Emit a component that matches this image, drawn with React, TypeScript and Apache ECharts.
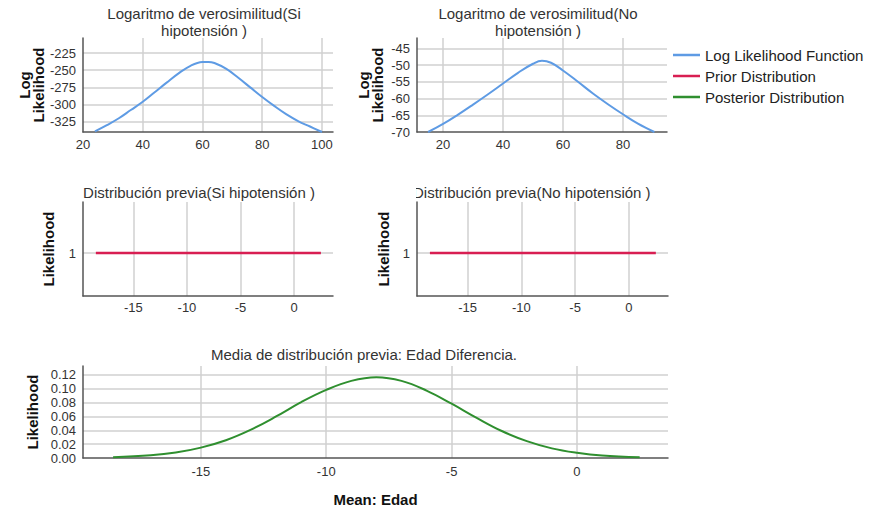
import React, { useEffect, useRef } from "react";
import * as echarts from "echarts";

// Log likelihood (Si hipotensión): [mean, log likelihood]
const llSiX = [24, 28, 32, 36, 40, 44, 48, 52, 56, 60, 62, 64, 68, 72, 76, 80, 84, 88, 92, 96, 100];
const llSiY = [-339, -330, -320, -308, -296, -282, -268, -254.5, -243.5, -238, -237.8, -239.5, -248, -261, -275, -289, -302, -314, -324, -332, -340];

// Log likelihood (No hipotensión)
const llNoX = [15, 20, 25, 30, 35, 40, 45, 50, 53, 56, 60, 65, 70, 75, 80, 85, 90.5];
const llNoY = [-70, -67.6, -64.8, -61.8, -58.7, -55.5, -52.3, -49.6, -48.7, -49.3, -51.6, -55, -58.5, -61.7, -64.7, -67.5, -70];

// Prior distribution (flat)
const priorX = [-18.5, 2.5];
const priorY = [1, 1];

// Posterior distribution of the mean difference
const postX = [-18.5, -17, -16, -15, -14, -13, -12, -11, -10, -9, -8, -7, -6, -5, -4, -3, -2, -1, 0, 1, 2.5];
const postY = [0.0011, 0.0038, 0.0078, 0.015, 0.0257, 0.041, 0.06, 0.0808, 0.0985, 0.1115, 0.1167, 0.1115, 0.0975, 0.0785, 0.058, 0.039, 0.0244, 0.0139, 0.0075, 0.0035, 0.001];

const titles = [
  "Logaritmo de verosimilitud(Si\nhipotensión )",
  "Logaritmo de verosimilitud(No\nhipotensión )",
  "Distribución previa(Si hipotensión )",
  "Distribución previa(No hipotensión )",
  "Media de distribución previa: Edad Diferencia.",
];
const seriesNames = ["Log Likelihood Function", "Prior Distribution", "Posterior Distribution"];
const colors = ["#5e9be4", "#d81e52", "#2f8f2f"];

const FONT = "Liberation Sans, Arial, sans-serif";
const zip = (xs: number[], ys: number[]) => xs.map((x, i) => [x, ys[i]]);

function isMult(v: number, step: number) {
  const r = v / step;
  return Math.abs(r - Math.round(r)) < 1e-6;
}

function xAxisCfg(grid: number, min: number, max: number, step: number, margin: number, name?: string) {
  return {
    type: "value",
    gridIndex: grid,
    min,
    max,
    minInterval: step,
    maxInterval: step,
    axisLine: { show: true, onZero: false, lineStyle: { color: "#555", width: 1.5 } },
    axisTick: { show: false },
    axisLabel: {
      margin,
      color: "#333",
      fontSize: 13,
      fontFamily: FONT,
      formatter: (v: number) => (isMult(v, step) ? String(Math.round(v)) : ""),
    },
    splitLine: { show: true, showMinLine: false, showMaxLine: false, lineStyle: { color: "#d0d0d0", width: 1.5 } },
    name: name || "",
    nameLocation: "middle",
    nameGap: 33.5,
    nameTextStyle: { fontWeight: "bold", fontSize: 15, color: "#111", fontFamily: FONT },
  };
}

function yAxisCfg(grid: number, min: number, max: number, step: number, name: string, nameGap: number, digits: number, onlyVal?: number) {
  return {
    type: "value",
    gridIndex: grid,
    min,
    max,
    minInterval: step,
    maxInterval: step,
    axisLine: { show: true, onZero: false, lineStyle: { color: "#555", width: 1.5 } },
    axisTick: { show: false },
    axisLabel: {
      margin: 7,
      color: "#333",
      fontSize: 13,
      fontFamily: FONT,
      formatter: (v: number) => {
        if (onlyVal !== undefined) return Math.abs(v - onlyVal) < 1e-6 ? String(onlyVal) : "";
        return isMult(v, step) ? v.toFixed(digits) : "";
      },
    },
    splitLine: { show: true, showMinLine: false, showMaxLine: false, lineStyle: { color: "#d0d0d0", width: 1.5 } },
    name,
    nameLocation: "middle",
    nameRotate: 90,
    nameGap,
    nameTextStyle: { fontWeight: "bold", fontSize: 15, color: "#111", fontFamily: FONT, lineHeight: 14 },
  };
}

export default function App() {
  const ref = useRef<HTMLDivElement>(null);
  useEffect(() => {
    if (!ref.current) return;
    const chart = echarts.init(ref.current, undefined, { renderer: "svg" });
    const titleStyle = { fontSize: 15, fontWeight: "normal", color: "#333", fontFamily: FONT, lineHeight: 15 };
    const titleStyle2 = { ...titleStyle, lineHeight: 17 };
    chart.setOption({
      animation: false,
      backgroundColor: "#fff",
      title: [
        { text: titles[0], left: 204, top: 5, padding: 0, textAlign: "center", textStyle: titleStyle2 },
        { text: titles[1], left: 538, top: 5, padding: 0, textAlign: "center", textStyle: titleStyle2 },
        { text: titles[2], left: 199, top: 185, padding: 0, textAlign: "center", textStyle: titleStyle },
        { text: titles[3], left: 413, top: 185, padding: 0, textAlign: "left", textStyle: titleStyle },
        { text: titles[4], left: 364, top: 347, padding: 0, textAlign: "center", textStyle: titleStyle },
      ],
      graphic: [
        { type: "rect", z: 100, shape: { x: 395, y: 180, width: 21, height: 22 }, style: { fill: "#fff" } },
      ],
      legend: {
        orient: "vertical",
        left: 673,
        top: 47.5,
        padding: 0,
        icon: "rect",
        itemWidth: 27,
        itemHeight: 2.5,
        itemGap: 6,
        data: seriesNames,
        textStyle: { fontSize: 15, color: "#222", fontFamily: FONT, lineHeight: 15 },
      },
      grid: [
        { left: 83, top: 38, width: 250, height: 94 },
        { left: 417, top: 38, width: 250, height: 94 },
        { left: 83, top: 202, width: 250, height: 94 },
        { left: 417, top: 202, width: 251, height: 94 },
        { left: 83, top: 366, width: 585, height: 92 },
      ],
      xAxis: [
        xAxisCfg(0, 20, 103.7, 20, 6),
        xAxisCfg(1, 11.3, 94.7, 20, 6),
        xAxisCfg(2, -19.7, 3.63, 5, 5),
        xAxisCfg(3, -19.7, 3.63, 5, 5),
        xAxisCfg(4, -19.7, 3.63, 5, 7, "Mean: Edad"),
      ],
      yAxis: [
        yAxisCfg(0, -340, -203, 25, "Log\nLikelihood", 32.5, 0),
        yAxisCfg(1, -70, -41.9, 5, "Log\nLikelihood", 32.5, 0),
        yAxisCfg(2, 0.5, 1.594, 1, "Likelihood", 27.5, 0, 1),
        yAxisCfg(3, 0.5, 1.594, 1, "Likelihood", 26.5, 0, 1),
        yAxisCfg(4, 0, 0.133, 0.02, "Likelihood", 42.5, 2),
      ],
      series: [
        {
          name: seriesNames[0], type: "line", xAxisIndex: 0, yAxisIndex: 0, data: zip(llSiX, llSiY),
          smooth: 0.4, symbol: "none", color: colors[0], lineStyle: { width: 2, color: colors[0] },
        },
        {
          name: seriesNames[0], type: "line", xAxisIndex: 1, yAxisIndex: 1, data: zip(llNoX, llNoY),
          smooth: 0.4, symbol: "none", color: colors[0], lineStyle: { width: 2, color: colors[0] },
        },
        {
          name: seriesNames[1], type: "line", xAxisIndex: 2, yAxisIndex: 2, data: zip(priorX, priorY),
          symbol: "none", color: colors[1], lineStyle: { width: 2.5, color: colors[1] },
        },
        {
          name: seriesNames[1], type: "line", xAxisIndex: 3, yAxisIndex: 3, data: zip(priorX, priorY),
          symbol: "none", color: colors[1], lineStyle: { width: 2.5, color: colors[1] },
        },
        {
          name: seriesNames[2], type: "line", xAxisIndex: 4, yAxisIndex: 4, data: zip(postX, postY),
          smooth: 0.4, symbol: "none", color: colors[2], lineStyle: { width: 2, color: colors[2] },
        },
      ],
    });
    return () => chart.dispose();
  }, []);
  return (
    <div
      ref={ref}
      style={{ position: "fixed", left: 0, top: 0, width: 869, height: 512, background: "#fff" }}
    />
  );
}
